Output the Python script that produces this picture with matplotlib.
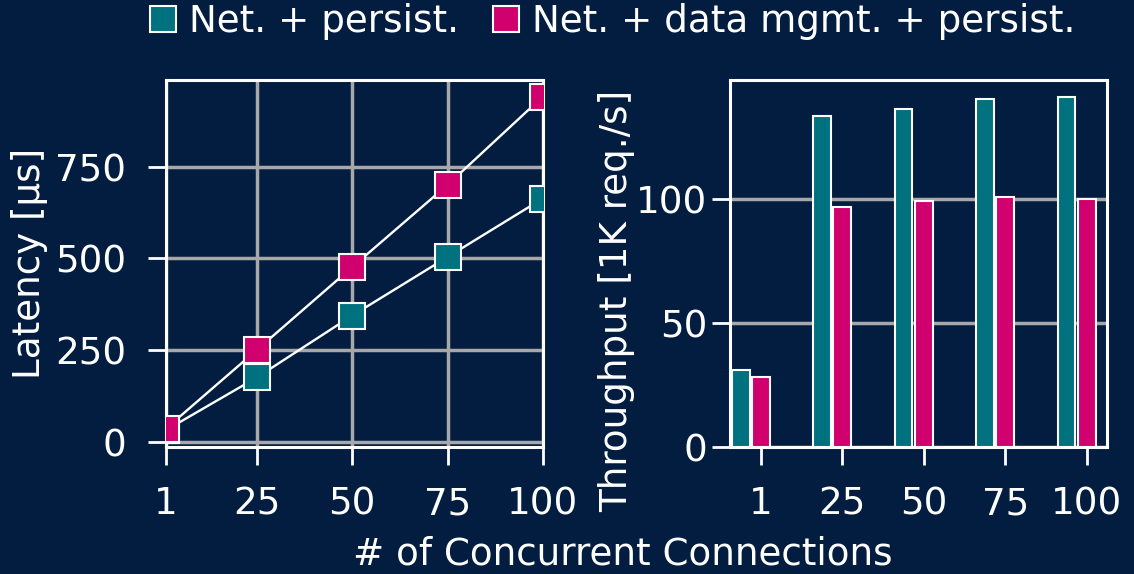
import matplotlib
matplotlib.use("Agg")
import matplotlib.pyplot as plt
import numpy as np
from matplotlib.patches import Patch

connections = [1, 25, 50, 75, 100]
conn_labels = ["1", "25", "50", "75", "100"]
series_names = ["Net. + persist.", "Net. + data mgmt. + persist."]
latency_persist = [33, 177, 345, 504, 663]
latency_mgmt = [37, 252, 477, 700, 940]
throughput_persist = [31, 133.5, 136, 140, 140.8]
throughput_mgmt = [28, 96.5, 99, 100.5, 100]

BG = "#021d40"
TEAL = "#00717f"
PINK = "#d1006f"
GRID = "#a8a8a8"
FS = 26.8

plt.rcParams["font.family"] = ["DejaVu Sans"]
plt.rcParams["text.color"] = "white"
plt.rcParams["axes.labelcolor"] = "white"
plt.rcParams["xtick.color"] = "white"
plt.rcParams["ytick.color"] = "white"

fig = plt.figure(figsize=(11.34, 5.74), dpi=100, facecolor=BG)
ax1 = fig.add_axes([0.1461, 0.2213, 0.3325, 0.6394], facecolor=BG)
ax2 = fig.add_axes([0.6437, 0.2213, 0.3327, 0.6394], facecolor=BG)

for ax in (ax1, ax2):
    ax.set_axisbelow(True)
    for s in ax.spines.values():
        s.set_color("white")
        s.set_linewidth(2.2)
    ax.tick_params(axis="both", labelsize=FS, length=13, width=2)
    ax.tick_params(axis="x", pad=14.5)
ax1.tick_params(axis="y", pad=15.5)
ax2.tick_params(axis="y", pad=3.5)

# Latency
for vals, col in ((latency_persist, TEAL), (latency_mgmt, PINK)):
    ax1.plot(connections, vals, color="white", lw=1.7, marker="s", ms=19,
             markerfacecolor=col, markeredgecolor="white", markeredgewidth=1.5,
             zorder=3)
ax1.set_xlim(1, 100)
ax1.set_xticks(connections)
ax1.set_xticklabels(conn_labels)
ax1.set_yticks([0, 250, 500, 750])
ax1.grid(True, color=GRID, lw=2.5)
ax1.set_ylabel("Latency [µs]", fontsize=FS)
ax1.yaxis.set_label_coords(-0.313, 0.5)

# Throughput
x = np.arange(len(connections))
w = 0.22
ax2.bar(x - 0.25, throughput_persist, width=w, color=TEAL, edgecolor="white", lw=1.5, zorder=3)
ax2.bar(x, throughput_mgmt, width=w, color=PINK, edgecolor="white", lw=1.5, zorder=3)
ax2.set_xlim(-0.38, 4.25)
ax2.set_xticks(x)
ax2.set_xticklabels(conn_labels)
ax2.set_yticks([0, 50, 100])
ax2.yaxis.grid(True, color=GRID, lw=2.5)
ax2.set_ylabel("Throughput [1K req./s]", fontsize=FS)
ax2.yaxis.set_label_coords(-0.252, 0.398)

fig.text(0.549, 0.0174, "# of Concurrent Connections", fontsize=FS, ha="center", va="baseline")

handles = [Patch(facecolor=TEAL, edgecolor="white", lw=1.5),
           Patch(facecolor=PINK, edgecolor="white", lw=1.5)]
fig.legend(handles, series_names, loc="center", bbox_to_anchor=(0.5406, 1 - 21.5 / 574),
           ncol=2, frameon=False, fontsize=FS, handlelength=0.7, handleheight=0.73,
           handletextpad=0.35, columnspacing=0.91, borderpad=0, borderaxespad=0)

fig.savefig("out.png", dpi=100, facecolor=BG)
